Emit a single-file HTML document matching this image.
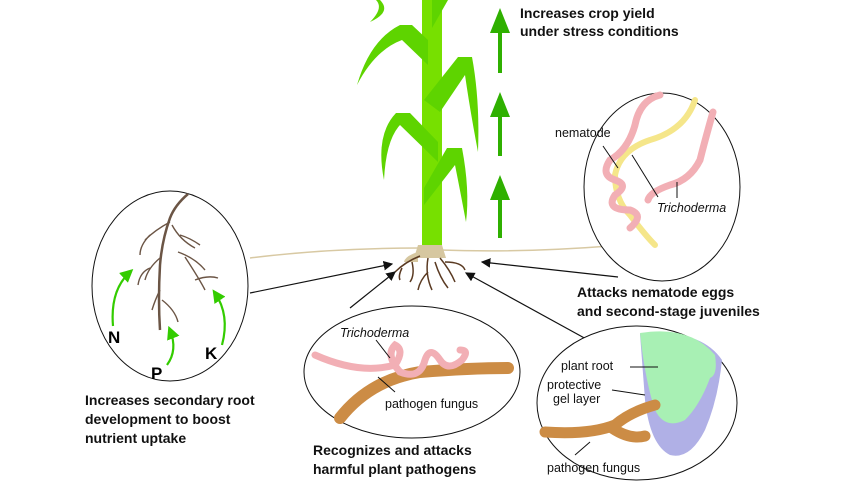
<!DOCTYPE html>
<html><head><meta charset="utf-8"><style>
html,body{margin:0;padding:0;background:#fff;width:850px;height:485px;overflow:hidden}
svg{display:block}
.b{font-family:"Liberation Sans",sans-serif;font-weight:bold;font-size:14px;fill:#111}
.s{font-family:"Liberation Sans",sans-serif;font-size:12.5px;fill:#111}
.big{font-family:"Liberation Sans",sans-serif;font-weight:bold;font-size:17px;fill:#000}
</style></head><body>
<svg width="850" height="485" viewBox="0 0 850 485">
<defs><marker id="ah" markerWidth="8" markerHeight="8" refX="7" refY="4" orient="auto"><path d="M0,0L8,4L0,8z" fill="#111"/></marker>
<marker id="gh" markerWidth="6" markerHeight="6" refX="4" refY="3" orient="auto"><path d="M0,0L6,3L0,6z" fill="#33cc00"/></marker></defs>

<path d="M250,258 Q330,248 420,248 M440,250 Q520,253 610,246" stroke="#d8c9a3" stroke-width="1.5" fill="none"/>

<g>
<rect x="422" y="0" width="20" height="248" fill="#77e000"/>
<path d="M380,0 Q392,12 370,22 Q384,8 376,0Z" fill="#5ed400"/>
<path d="M432,28 L448,0 L432,0Z" fill="#5ed400"/>
<path d="M428,40 L412,25 L400,25 Q370,40 357,85 Q375,50 402,40 L428,65Z" fill="#5ed400"/>
<path d="M424,100 L458,57 L472,57 Q480,100 478,152 Q470,110 465,75 L440,112Z" fill="#5ed400"/>
<path d="M438,142 L410,113 L396,113 Q375,135 384,180 Q386,140 400,125 L438,162Z" fill="#5ed400"/>
<path d="M424,188 L447,148 L462,148 Q470,190 466,222 Q460,190 455,165 L424,205Z" fill="#5ed400"/>
<path d="M418,245 L442,245 L446,258 L414,258Z" fill="#d6c7a0"/>
<path d="M418,252 Q405,256 404,262 L418,262Z" fill="#d6c7a0"/>
</g>
<g stroke="#5a3a22" stroke-width="1.5" fill="none">
<path d="M420,256 Q405,262 395,272 M412,262 Q415,275 410,282 M428,258 Q425,275 432,290 M428,272 Q420,280 418,290 M440,258 Q450,270 455,282 M445,262 Q462,262 465,270 M435,262 Q440,278 448,288 M402,268 Q398,276 400,280"/>
</g>

<g fill="#2fb000">
<rect x="498" y="25" width="4" height="48"/><path d="M490,33L500,8L510,33Z"/>
<rect x="498" y="108" width="4" height="48"/><path d="M490,117L500,92L510,117Z"/>
<rect x="498" y="192" width="4" height="46"/><path d="M490,200L500,175L510,200Z"/>
</g>
<text class="b" x="520" y="18">Increases crop yield</text>
<text class="b" x="520" y="36">under stress conditions</text>

<g stroke="#111" stroke-width="1.2" fill="none">
<line x1="250" y1="293" x2="392" y2="264" marker-end="url(#ah)"/>
<line x1="618" y1="277" x2="482" y2="262" marker-end="url(#ah)"/>
<line x1="350" y1="308" x2="395" y2="272" marker-end="url(#ah)"/>
<line x1="588" y1="340" x2="466" y2="273" marker-end="url(#ah)"/>
</g>

<g>
<ellipse cx="170" cy="286" rx="78" ry="95" fill="#fff" stroke="#111" stroke-width="1"/>
<g stroke="#6b5545" stroke-width="1.4" fill="none">
<path d="M188,194 Q175,205 170,218 Q162,240 160,265 Q158,300 160,330" stroke-width="2.5"/>
<path d="M170,222 Q155,230 145,240 M150,235 Q140,245 140,255 M172,225 Q180,240 195,248 M180,235 Q190,238 200,245 M178,252 Q195,258 205,270 M185,257 Q200,280 205,290 M195,280 Q208,275 218,278 M160,258 Q148,268 145,280 M150,268 Q140,272 138,285 M162,300 Q175,310 178,322 M160,290 Q155,300 152,310"/>
</g>
<g stroke="#33cc00" stroke-width="2.2" fill="none">
<path d="M113,326 Q110,290 130,272" marker-end="url(#gh)"/>
<path d="M167,365 Q178,350 170,330" marker-end="url(#gh)"/>
<path d="M222,345 Q230,315 215,293" marker-end="url(#gh)"/>
</g>
<text class="big" x="108" y="343">N</text>
<text class="big" x="151" y="379">P</text>
<text class="big" x="205" y="359">K</text>
</g>
<text class="b" x="85" y="405">Increases secondary root</text>
<text class="b" x="85" y="424">development to boost</text>
<text class="b" x="85" y="443">nutrient uptake</text>

<g>
<ellipse cx="662" cy="187" rx="78" ry="94" fill="#fff" stroke="#111" stroke-width="1"/>
<path d="M695,100 Q685,130 650,140 Q620,150 615,175 Q615,200 630,215 Q645,235 655,245" stroke="#f5e68a" stroke-width="6" fill="none" stroke-linecap="round"/>
<path d="M660,95 Q640,100 635,125 Q628,150 610,160 Q600,175 615,180 Q630,185 615,195 Q605,210 630,210 Q645,215 630,228" stroke="#f2afb5" stroke-width="7" fill="none" stroke-linecap="round"/>
<path d="M713,112 Q705,140 700,160 Q690,180 670,185 Q650,192 648,200" stroke="#f2afb5" stroke-width="7" fill="none" stroke-linecap="round"/>
<g stroke="#111" stroke-width="1"><line x1="603" y1="146" x2="618" y2="168"/><line x1="632" y1="155" x2="658" y2="197"/><line x1="677" y1="182" x2="677" y2="198"/></g>
<text class="s" x="555" y="137">nematode</text>
<text class="s" x="657" y="212" font-style="italic">Trichoderma</text>
</g>
<text class="b" x="577" y="297">Attacks nematode eggs</text>
<text class="b" x="577" y="316">and second-stage juveniles</text>

<g>
<ellipse cx="412" cy="372" rx="108" ry="66" fill="#fff" stroke="#111" stroke-width="1"/>
<path d="M340,418 Q370,380 420,372 Q470,368 508,368" stroke="#cc8c45" stroke-width="12" fill="none" stroke-linecap="round"/>
<path d="M315,355 Q360,375 395,365 Q405,350 395,345 Q385,355 400,372 Q420,380 425,360 Q430,345 440,360 Q448,372 462,360 Q470,350 460,350" stroke="#f2afb5" stroke-width="7" fill="none" stroke-linecap="round"/>
<g stroke="#111" stroke-width="1"><line x1="376" y1="340" x2="390" y2="358"/><line x1="378" y1="377" x2="395" y2="392"/></g>
<text class="s" x="340" y="337" font-style="italic">Trichoderma</text>
<text class="s" x="385" y="408">pathogen fungus</text>
</g>
<text class="b" x="313" y="455">Recognizes and attacks</text>
<text class="b" x="313" y="474">harmful plant pathogens</text>

<g>
<ellipse cx="637" cy="403" rx="100" ry="77" fill="#fff" stroke="#111" stroke-width="1"/>
<path d="M640,334 Q700,328 722,360 Q718,400 705,430 Q690,460 670,455 Q650,445 645,400Z" fill="#b0b0e6"/>
<path d="M640,333 Q690,325 715,355 Q718,375 710,378 Q700,405 685,420 Q665,430 655,410 Q645,380 640,333Z" fill="#a8f0b4"/>
<path d="M545,432 Q590,435 615,425 Q630,412 655,405 M612,428 Q630,440 645,436" stroke="#cc8c45" stroke-width="11" fill="none" stroke-linecap="round"/>
<g stroke="#111" stroke-width="1"><line x1="630" y1="367" x2="658" y2="367"/><line x1="612" y1="390" x2="645" y2="395"/><line x1="575" y1="455" x2="590" y2="442"/></g>
<text class="s" x="561" y="370">plant root</text>
<text class="s" x="547" y="389">protective</text>
<text class="s" x="553" y="403">gel layer</text>
<text class="s" x="547" y="472">pathogen fungus</text>
</g>
</svg>
</body></html>
